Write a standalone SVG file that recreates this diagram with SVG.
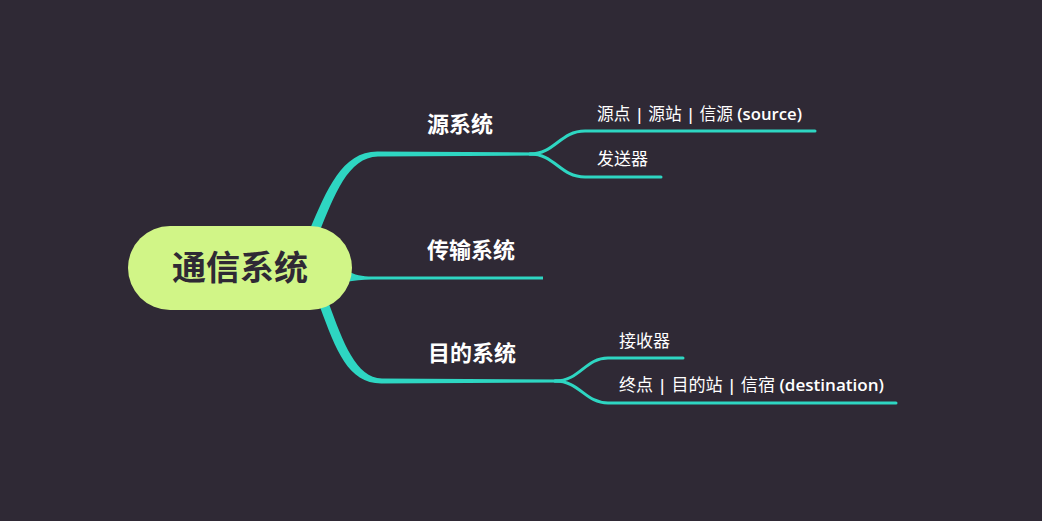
<svg xmlns="http://www.w3.org/2000/svg" width="1042" height="521" viewBox="0 0 1042 521">
<style>
.bg{fill:#2f2935}
.br{fill:none;stroke:#2ed6c2;stroke-linecap:round}
.tb{fill:#2ed6c2}
.t1{font-family:"Open Sans","Noto Sans CJK SC",sans-serif;font-weight:700;font-size:22px;fill:#ffffff}
.t2{font-family:"Open Sans","Noto Sans CJK SC",sans-serif;font-weight:400;font-size:17px;fill:#ffffff}
.b{font-weight:600}
.root{font-family:"Noto Sans CJK SC",sans-serif;font-weight:700;font-size:34px;fill:#2f2935}
</style>
<rect class="bg" width="1042" height="521"/>
<g id="connectors">
<path class="tb" d="M319,233 C334,196 348,157 378,156.5 L540,155.5 L540,152.5 L378,151.5 C342,151 327,190 310,229 Z"/>
<path class="tb" d="M346,270.5 C355,275 362,276.5 372,276.5 L543,276.5 L543,279.5 L372,279.5 C362,279.5 354,280.5 346,282 Z"/>
<path class="tb" d="M320,307 C336,350 348,384 382,383.5 L560,382.5 L560,379.5 L382,378.5 C356,378 343,342 329,304 Z"/>
<path class="br" stroke-width="3" d="M530,154 C555,154 560,131 585,131 L815,131"/>
<path class="br" stroke-width="3" d="M530,154 C555,154 560,177 585,177 L661,177"/>
<path class="br" stroke-width="3" d="M555,381 C580,381 585,358 608,358 L683,358"/>
<path class="br" stroke-width="3" d="M555,381 C580,381 585,403 608,403 L896,403"/>
</g>
<g id="root">
<rect x="128" y="226" width="224" height="84" rx="42" fill="#d1f587"/>
<text class="root" x="240" y="280" text-anchor="middle">通信系统</text>
</g>
<g id="n1"><text class="t1" x="427" y="132">源系统</text></g>
<g id="n2"><text class="t1" x="427" y="258">传输系统</text></g>
<g id="n3"><text class="t1" x="428" y="361">目的系统</text></g>
<g id="n1a"><text class="t2" x="597" y="120" textLength="205" lengthAdjust="spacingAndGlyphs">源点 <tspan class="b">|</tspan> 源站 <tspan class="b">|</tspan> 信源 <tspan class="b">(source)</tspan></text></g>
<g id="n1b"><text class="t2" x="597" y="165">发送器</text></g>
<g id="n3a"><text class="t2" x="619" y="347">接收器</text></g>
<g id="n3b"><text class="t2" x="619" y="391" textLength="265" lengthAdjust="spacingAndGlyphs">终点 <tspan class="b">|</tspan> 目的站 <tspan class="b">|</tspan> 信宿 <tspan class="b">(destination)</tspan></text></g>
</svg>
